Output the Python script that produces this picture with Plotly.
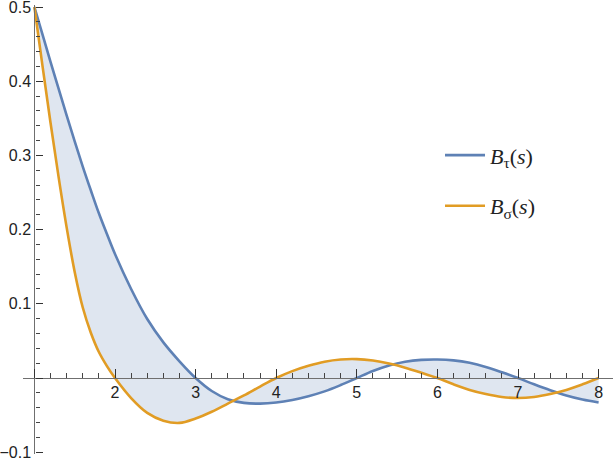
import plotly.graph_objects as go

# ---- data ----
s_vals = [1.0, 1.1, 1.2, 1.3, 1.4, 1.5, 1.6, 1.7, 1.8, 1.9, 2.0,
          2.2, 2.4, 2.6, 2.8, 3.0, 3.2, 3.4, 3.6, 3.8, 4.0,
          4.2, 4.4, 4.6, 4.8, 5.0, 5.2, 5.4, 5.6, 5.8, 6.0,
          6.2, 6.4, 6.6, 6.8, 7.0, 7.2, 7.4, 7.6, 7.8, 8.0]

b_tau = [0.500, 0.463, 0.426, 0.390, 0.354, 0.319, 0.285, 0.253, 0.222, 0.194, 0.167,
         0.120, 0.0795, 0.048, 0.0225, 0.000, -0.0175, -0.0285, -0.0335, -0.0345, -0.033,
         -0.0295, -0.0245, -0.018, -0.0095, 0.000, 0.0095, 0.017, 0.022, 0.0245, 0.025,
         0.0238, 0.0205, 0.015, 0.0078, 0.000, -0.0085, -0.0165, -0.0235, -0.029, -0.033]

b_sigma = [0.500, 0.421, 0.344, 0.271, 0.203, 0.143, 0.095, 0.061, 0.035, 0.016, 0.000,
           -0.027, -0.047, -0.0575, -0.0605, -0.0545, -0.0455, -0.0345, -0.0235, -0.0115, 0.000,
           0.0093, 0.0165, 0.022, 0.025, 0.0255, 0.0235, 0.0195, 0.014, 0.0072, 0.000,
           -0.0085, -0.016, -0.0215, -0.0255, -0.027, -0.0255, -0.0215, -0.016, -0.0085, 0.000]

x_ticks = [1, 2, 3, 4, 5, 6, 7, 8]
x_tick_text = ["", "2", "3", "4", "5", "6", "7", "8"]
y_ticks = [-0.1, 0.0, 0.1, 0.2, 0.3, 0.4, 0.5]
y_tick_text = ["\u22120.1", "", "0.1", "0.2", "0.3", "0.4", "0.5"]

names = ["<i>B</i><sub>\u03c4</sub>(<i>s</i>)", "<i>B</i><sub>\u03c3</sub>(<i>s</i>)"]

BLUE = "#5E81B5"
ORANGE = "#E19C24"
FILL = "rgba(94,129,181,0.20)"

# ---- geometry ----
W, H = 613, 460
ml, mr, mt, mb = 23, 0, 5, 6
x_range = [0.8586, 8.1787]
y_range = [-0.1024, 0.5027]
x_origin, y_origin = 1.0, 0.0
pos_yaxis = (x_origin - x_range[0]) / (x_range[1] - x_range[0])
pos_xaxis = (y_origin - y_range[0]) / (y_range[1] - y_range[0])

fig = go.Figure()
fig.add_trace(go.Scatter(x=s_vals, y=b_tau, mode="lines", name=names[0],
                         line=dict(color=BLUE, width=2.6, shape="spline", smoothing=1),
                         legendgroup="a"))
fig.add_trace(go.Scatter(x=s_vals, y=b_sigma, mode="lines", fill="tonexty",
                         fillcolor=FILL, line=dict(width=0, shape="spline", smoothing=1),
                         showlegend=False, hoverinfo="skip"))
fig.add_trace(go.Scatter(x=s_vals, y=b_sigma, mode="lines", name=names[1],
                         line=dict(color=ORANGE, width=2.6, shape="spline", smoothing=1),
                         legendgroup="b"))

tick_font = dict(family="Liberation Sans, Arial, sans-serif", size=16, color="#222222")

fig.update_layout(
    width=W, height=H,
    margin=dict(l=ml, r=mr, t=mt, b=mb, pad=0, autoexpand=False),
    paper_bgcolor="white", plot_bgcolor="white",
    showlegend=True,
    legend=dict(x=0.7068, y=0.712, xanchor="left", yanchor="top",
                font=dict(family="Liberation Serif, Times New Roman, serif", size=22, color="#222222"),
                tracegroupgap=19, traceorder="grouped", bgcolor="rgba(0,0,0,0)",
                itemwidth=40),
    xaxis=dict(range=x_range, anchor="free", position=pos_xaxis, automargin=False,
               showgrid=False, zeroline=False,
               showline=True, linecolor="#6f6f6f", linewidth=1.3,
               tickmode="array", tickvals=x_ticks, ticktext=x_tick_text,
               ticks="inside", ticklen=9, tickwidth=1.3, tickcolor="#333333",
               minor=dict(tickmode="linear", tick0=0, dtick=0.2, ticks="inside",
                          ticklen=5, tickwidth=1, tickcolor="#444444", showgrid=False),
               tickfont=tick_font, side="bottom", ticklabeloverflow="allow"),
    yaxis=dict(range=y_range, anchor="free", position=pos_yaxis, automargin=False,
               showgrid=False, zeroline=False,
               showline=True, linecolor="#6f6f6f", linewidth=1.3,
               tickmode="array", tickvals=y_ticks, ticktext=y_tick_text,
               ticks="inside", ticklen=7, tickwidth=1.3, tickcolor="#333333",
               minor=dict(tickmode="linear", tick0=0, dtick=0.02, ticks="inside",
                          ticklen=4, tickwidth=1, tickcolor="#444444", showgrid=False),
               tickfont=tick_font, side="left", ticklabeloverflow="allow"),
)

fig.write_html("out.html",
               config={"displayModeBar": False},
               post_script="document.body.style.margin='0px';document.body.style.overflow='hidden';")
